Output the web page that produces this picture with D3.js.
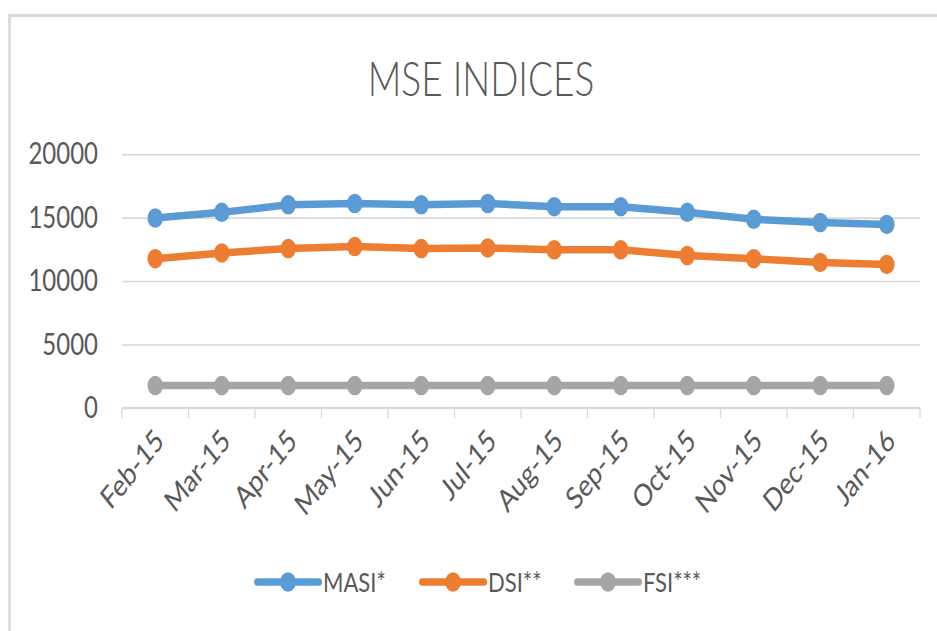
<!DOCTYPE html>
<html>
<head>
<meta charset="utf-8">
<script src="https://cdn.jsdelivr.net/npm/d3@7"></script>
<style>
  html, body { margin: 0; padding: 0; background: #fff; }
  svg { display: block; }
  text { font-family: Lato, 'Open Sans', sans-serif; fill: #595959; }
</style>
</head>
<body>
<div id="chart"></div>
<script>
'use strict';

var months = ['Feb-15', 'Mar-15', 'Apr-15', 'May-15', 'Jun-15', 'Jul-15',
              'Aug-15', 'Sep-15', 'Oct-15', 'Nov-15', 'Dec-15', 'Jan-16'];
var masi = [14950, 15400, 16000, 16100, 16000, 16100, 15850, 15850, 15400, 14850, 14600, 14450];
var dsi  = [11750, 12200, 12550, 12700, 12550, 12600, 12450, 12450, 12000, 11750, 11450, 11300];
var fsi  = [1750, 1750, 1750, 1750, 1750, 1750, 1750, 1750, 1750, 1750, 1750, 1750];
var yTicks = [0, 5000, 10000, 15000, 20000];

var seriesNames = ['MASI*', 'DSI**', 'FSI***'];
var seriesValues = [masi, dsi, fsi];
var colors = ['#5b9bd5', '#ed7d31', '#a5a5a5'];

// the picture is stretched vertically, so draw in a squashed box and let the viewBox stretch it
var width = 937,
    height = 631,
    stretch = 1.25,
    innerH = height / stretch;

var svg = d3.select('#chart').append('svg')
    .attr('width', width)
    .attr('height', height)
    .attr('viewBox', '0 0 ' + width + ' ' + innerH)
    .attr('preserveAspectRatio', 'none');

// outer frame (only top and left edges show)
svg.append('rect')
    .attr('x', 9.5)
    .attr('y', 12.4)
    .attr('width', width + 10)
    .attr('height', innerH + 10)
    .attr('fill', '#fff')
    .attr('stroke', '#d9d9d9')
    .attr('stroke-width', 2.6);

svg.append('text')
    .attr('x', 481)
    .attr('y', 76.5)
    .attr('text-anchor', 'middle')
    .style('font-size', '37px')
    .style('font-weight', 300)
    .text('MSE INDICES');

var x = d3.scaleBand()
    .domain(months)
    .range([122, 920]);

var y = d3.scaleLinear()
    .domain([0, 20000])
    .range([326.2, 123.2]);

// gridlines + y labels
var yAxis = svg.append('g')
    .attr('transform', 'translate(122,0)')
    .call(d3.axisLeft(y)
      .tickValues(yTicks)
      .tickFormat(d3.format('d'))
      .tickSize(-(920 - 122))
      .tickPadding(24));

yAxis.select('.domain').remove();
yAxis.selectAll('.tick line')
    .attr('stroke', '#d9d9d9')
    .attr('stroke-width', 1.3);
yAxis.selectAll('.tick text')
    .attr('fill', '#595959')
    .style('font-family', 'Lato, sans-serif')
    .style('font-size', '24px');

// x axis line and boundary ticks
var xAxis = svg.append('g')
    .attr('transform', 'translate(0,' + y(0) + ')');

xAxis.append('line')
    .attr('x1', 122)
    .attr('x2', 920)
    .attr('stroke', '#d9d9d9')
    .attr('stroke-width', 1.6);

xAxis.selectAll('.bound')
    .data(months.concat(['end']))
    .enter()
    .append('line')
      .attr('class', 'bound')
      .attr('x1', function(d) { return d === 'end' ? 920 : x(d); })
      .attr('x2', function(d) { return d === 'end' ? 920 : x(d); })
      .attr('y1', 0)
      .attr('y2', 8.4)
      .attr('stroke', '#d9d9d9')
      .attr('stroke-width', 1.3);

xAxis.selectAll('.mlabel')
    .data(months)
    .enter()
    .append('text')
      .attr('class', 'mlabel')
      .attr('text-anchor', 'end')
      .attr('transform', function(d) {
        return 'translate(' + (x(d) + x.bandwidth() / 2 + 10) + ',28) rotate(-45)';
      })
      .style('font-size', '24.5px')
      .text(function(d) { return d; });

// lines and markers
var line = d3.line()
    .x(function(d, i) { return x(months[i]) + x.bandwidth() / 2; })
    .y(function(d) { return y(d); });

var series = svg.selectAll('.series')
    .data(seriesValues)
    .enter()
    .append('g')
      .attr('class', 'series');

series.append('path')
    .attr('d', function(d) { return line(d); })
    .attr('fill', 'none')
    .attr('stroke', function(d, i) { return colors[i]; })
    .attr('stroke-width', 6)
    .attr('stroke-linejoin', 'round');

series.each(function(vals, si) {
  d3.select(this).selectAll('circle')
    .data(vals)
    .enter()
    .append('circle')
      .attr('cx', function(d, i) { return x(months[i]) + x.bandwidth() / 2; })
      .attr('cy', function(d) { return y(d); })
      .attr('r', 7.8)
      .attr('fill', colors[si]);
});

// legend
var legendX = [257, 422, 577];
var legend = svg.selectAll('.legend')
    .data(seriesNames)
    .enter()
    .append('g')
      .attr('class', 'legend')
      .attr('transform', function(d, i) { return 'translate(' + legendX[i] + ',' + (582 / stretch) + ')'; });

legend.append('line')
    .attr('x1', 0)
    .attr('x2', 62)
    .attr('stroke', function(d, i) { return colors[i]; })
    .attr('stroke-width', 6)
    .attr('stroke-linecap', 'round');

legend.append('circle')
    .attr('cx', 31)
    .attr('r', 7.8)
    .attr('fill', function(d, i) { return colors[i]; });

legend.append('text')
    .attr('x', 66)
    .attr('dy', '0.36em')
    .style('font-size', '22px')
    .text(function(d) { return d; });
</script>
</body>
</html>
